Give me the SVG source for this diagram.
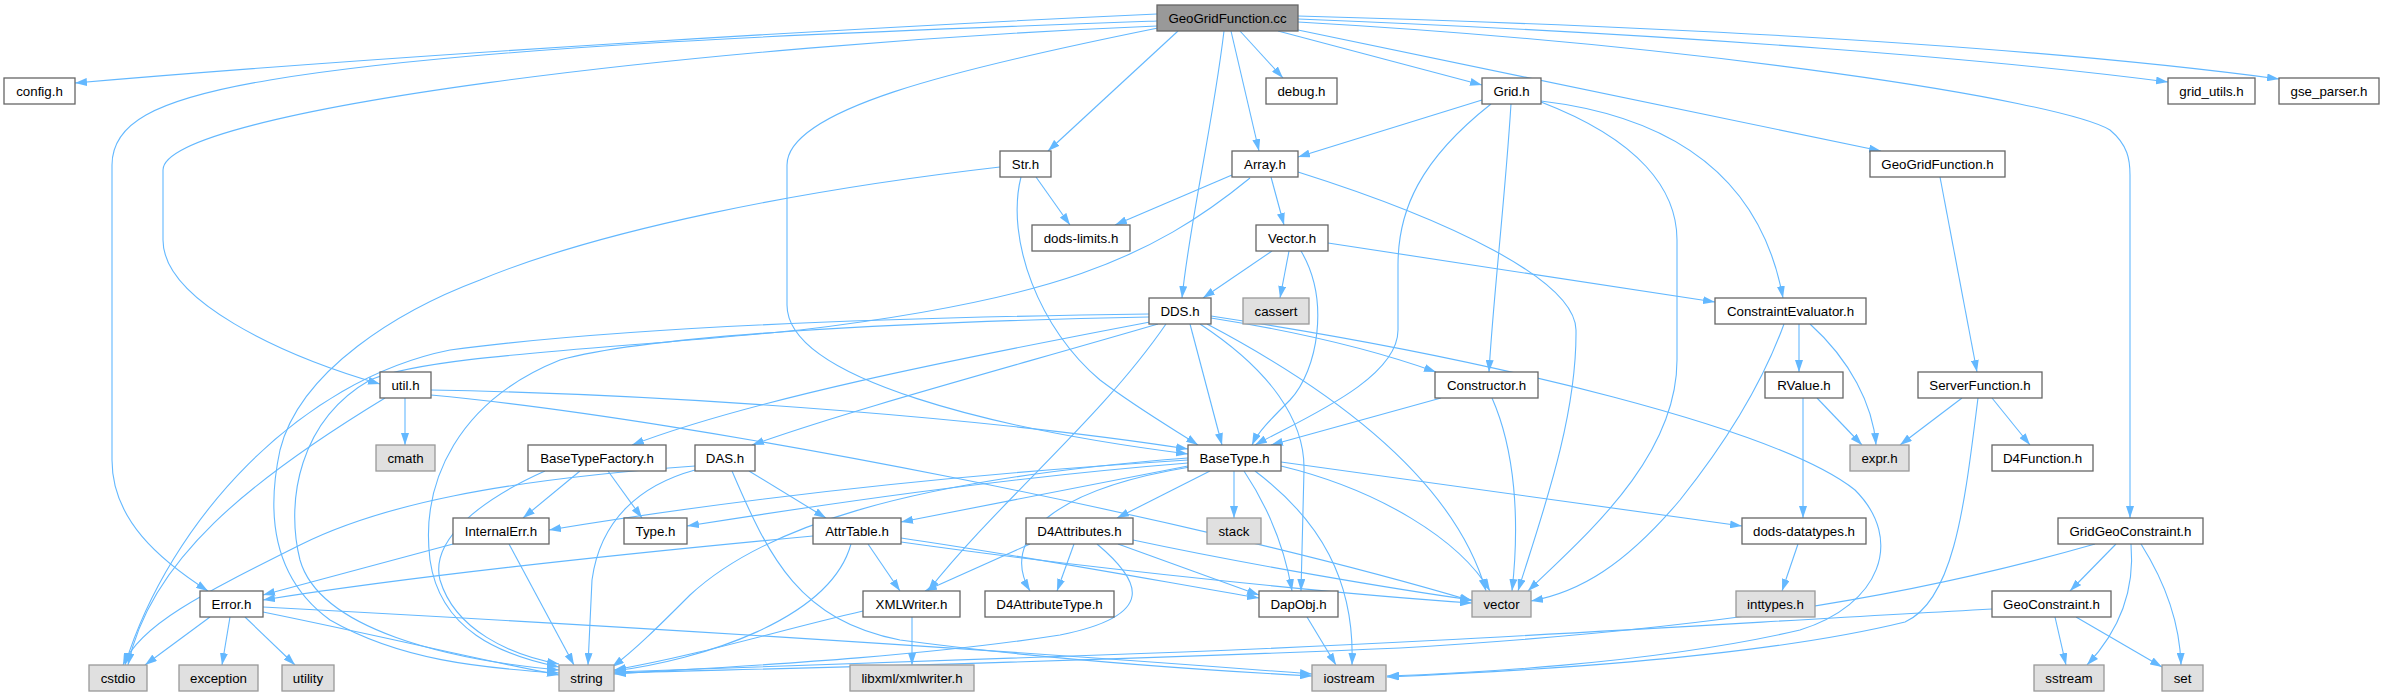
<svg xmlns="http://www.w3.org/2000/svg" width="2385" height="696" viewBox="0 0 2385 696">
<style>
.n rect{fill:#ffffff;stroke:#666666;stroke-width:1.3}
.s rect{fill:#e0e0e0;stroke:#999999;stroke-width:1.3}
.r rect{fill:#999999;stroke:#666666;stroke-width:1.3}
text{font-family:"Liberation Sans",Arial,Helvetica,sans-serif;font-size:13.3px;text-anchor:middle;fill:#000000}
#edges path{fill:none;stroke:#63B8FF;stroke-width:1.1;marker-end:url(#a)}
</style>
<defs>
<marker id="a" viewBox="0 0 12 8" markerWidth="12" markerHeight="8" markerUnits="userSpaceOnUse" refX="12" refY="4" orient="auto"><path d="M0,0 L12,4 L0,8 z" fill="#63B8FF"/></marker>
</defs>
<rect width="2385" height="696" fill="#ffffff"/>
<g id="edges">
<path d="M1157,14 C850,28 400,55 75,83"/>
<path d="M1157,26 C700,45 163,110 163,170 L163,240 C163,300 280,355 380,384"/>
<path d="M1157,21 C850,32 480,45 270,80 C150,100 112,125 112,165 L112,460 C112,520 160,560 208,591"/>
<path d="M1158,28 C950,70 787,110 787,165 L787,305 C787,380 1000,430 1188,454"/>
<path d="M1178,31 L1048,151"/>
<path d="M1224,31 C1212,130 1190,220 1182,298"/>
<path d="M1231,31 L1259,151"/>
<path d="M1240,31 L1283,78"/>
<path d="M1278,31 L1482,85"/>
<path d="M1298,30 L1881,151"/>
<path d="M1298,22 C1700,45 2060,100 2110,130 C2128,145 2130,160 2130,175 L2130,518"/>
<path d="M1298,19 C1700,35 2000,60 2168,82"/>
<path d="M1298,16 C1800,30 2100,55 2279,79"/>
<path d="M1036,177 L1070,225"/>
<path d="M1021,177 C1005,240 1040,330 1100,380 C1140,410 1175,430 1198,445"/>
<path d="M1000,167 C800,190 600,230 480,280 C400,310 300,370 280,450 C265,520 275,580 330,620 C400,660 480,668 559,673"/>
<path d="M1232,175 L1115,225"/>
<path d="M1271,177 L1284,225"/>
<path d="M1298,172 C1450,220 1575,280 1576,330 C1577,420 1540,520 1518,591"/>
<path d="M1250,178 C1150,260 1050,300 800,330 C600,350 430,355 370,380 C300,420 285,500 300,560 C320,630 450,660 559,670"/>
<path d="M1482,100 L1298,157"/>
<path d="M1511,104 C1505,200 1493,300 1489,372"/>
<path d="M1491,104 C1420,160 1398,210 1398,265 L1398,330 C1398,380 1300,420 1255,445"/>
<path d="M1541,102 C1640,140 1677,190 1677,240 L1677,360 C1677,460 1580,540 1528,591"/>
<path d="M1541,101 C1700,120 1765,200 1783,298"/>
<path d="M1272,251 L1203,298"/>
<path d="M1289,251 L1280,298"/>
<path d="M1301,251 C1330,300 1318,370 1290,400 C1270,420 1258,432 1252,445"/>
<path d="M1328,243 L1715,302"/>
<path d="M1190,324 L1222,445"/>
<path d="M1200,324 C1270,370 1305,420 1304,470 L1301,591"/>
<path d="M1207,324 C1370,410 1460,500 1486,591"/>
<path d="M1211,318 C1300,332 1380,352 1436,372"/>
<path d="M1211,316 C1500,360 1780,430 1855,490 C1905,540 1880,605 1800,630 C1650,665 1450,674 1387,676"/>
<path d="M1149,314 C850,318 600,330 450,350 C300,380 170,520 125,665"/>
<path d="M1149,317 C900,322 650,335 560,360 C460,400 420,480 430,560 C440,630 500,655 559,667"/>
<path d="M1150,322 C950,360 750,400 632,445"/>
<path d="M1158,324 C1000,370 850,410 752,445"/>
<path d="M1166,324 C1100,420 1000,500 928,591"/>
<path d="M1799,324 L1799,372"/>
<path d="M1810,324 C1850,360 1873,405 1876,445"/>
<path d="M1784,324 C1760,390 1720,450 1680,500 C1625,565 1580,592 1531,601"/>
<path d="M1441,398 L1271,445"/>
<path d="M1492,398 C1515,450 1520,520 1512,591"/>
<path d="M1817,398 L1862,445"/>
<path d="M1803,398 L1803,518"/>
<path d="M1962,398 L1900,445"/>
<path d="M1992,398 L2030,445"/>
<path d="M1978,398 C1965,500 1955,600 1905,622 C1750,660 1500,672 1387,677"/>
<path d="M1940,177 L1977,372"/>
<path d="M405,398 L405,445"/>
<path d="M431,390 C700,395 1000,420 1188,449"/>
<path d="M431,395 C700,420 1200,520 1472,601"/>
<path d="M385,398 C250,480 150,560 128,665"/>
<path d="M580,471 L523,518"/>
<path d="M608,471 L642,518"/>
<path d="M545,471 C480,500 430,540 440,580 C455,630 510,655 559,664"/>
<path d="M749,471 L826,518"/>
<path d="M695,470 C640,485 600,520 592,580 L588,665"/>
<path d="M732,471 C770,560 800,620 900,640 C1050,660 1200,670 1312,676"/>
<path d="M695,466 C500,480 380,505 300,545 C200,595 140,625 123,665"/>
<path d="M1188,458 C900,480 760,530 690,595 C660,625 635,650 612,667"/>
<path d="M1188,460 C900,478 700,505 549,530"/>
<path d="M1188,463 C1000,478 820,505 687,526"/>
<path d="M1188,466 L901,522"/>
<path d="M1210,471 L1117,518"/>
<path d="M1190,467 C1050,490 1000,540 1030,591"/>
<path d="M1234,471 L1234,518"/>
<path d="M1244,471 C1270,510 1285,550 1292,591"/>
<path d="M1255,471 C1320,520 1355,580 1352,665"/>
<path d="M1281,466 C1380,490 1460,540 1490,591"/>
<path d="M1281,462 L1742,526"/>
<path d="M453,544 L263,595"/>
<path d="M509,544 L574,665"/>
<path d="M813,536 C600,556 400,578 263,600"/>
<path d="M851,544 C830,620 700,660 614,671"/>
<path d="M868,544 L900,591"/>
<path d="M901,538 C1050,560 1180,585 1259,598"/>
<path d="M901,542 C1100,570 1350,595 1472,603"/>
<path d="M1030,544 L925,591"/>
<path d="M1074,544 L1057,591"/>
<path d="M1118,544 L1259,595"/>
<path d="M1133,540 C1250,565 1400,590 1472,600"/>
<path d="M1097,544 C1140,580 1160,615 1060,635 C900,660 700,668 614,674"/>
<path d="M210,617 L145,665"/>
<path d="M230,617 L222,665"/>
<path d="M245,617 L295,665"/>
<path d="M263,612 C400,640 480,660 559,675"/>
<path d="M263,607 C600,625 1000,650 1312,674"/>
<path d="M863,611 C780,630 700,655 614,670"/>
<path d="M912,617 L912,665"/>
<path d="M1307,617 L1336,665"/>
<path d="M1798,544 L1782,591"/>
<path d="M2116,544 L2070,591"/>
<path d="M2131,544 C2135,590 2120,630 2087,665"/>
<path d="M2141,544 C2170,590 2180,630 2181,665"/>
<path d="M2095,544 C1900,600 1700,630 1400,648 C1000,665 700,670 614,673"/>
<path d="M2055,617 L2066,665"/>
<path d="M2076,617 L2162,667"/>
<path d="M1992,609 C1700,625 1400,645 1100,655 C850,665 700,670 614,672"/>
</g>
<g id="n_root" class="r"><rect x="1157" y="5" width="141" height="26"/><text x="1227.5" y="22.7">GeoGridFunction.cc</text></g>
<g id="n_config" class="n"><rect x="4" y="78" width="71" height="26"/><text x="39.5" y="95.7">config.h</text></g>
<g id="n_debug" class="n"><rect x="1266" y="78" width="71" height="26"/><text x="1301.5" y="95.7">debug.h</text></g>
<g id="n_grid" class="n"><rect x="1482" y="78" width="59" height="26"/><text x="1511.5" y="95.7">Grid.h</text></g>
<g id="n_grid_utils" class="n"><rect x="2168" y="78" width="87" height="26"/><text x="2211.5" y="95.7">grid_utils.h</text></g>
<g id="n_gse_parser" class="n"><rect x="2279" y="78" width="100" height="26"/><text x="2329" y="95.7">gse_parser.h</text></g>
<g id="n_str" class="n"><rect x="1000" y="151" width="51" height="26"/><text x="1025.5" y="168.7">Str.h</text></g>
<g id="n_array" class="n"><rect x="1232" y="151" width="66" height="26"/><text x="1265" y="168.7">Array.h</text></g>
<g id="n_geogridfunction_h" class="n"><rect x="1870" y="151" width="135" height="26"/><text x="1937.5" y="168.7">GeoGridFunction.h</text></g>
<g id="n_dods_limits" class="n"><rect x="1032" y="225" width="98" height="26"/><text x="1081" y="242.7">dods-limits.h</text></g>
<g id="n_vector_h" class="n"><rect x="1256" y="225" width="72" height="26"/><text x="1292" y="242.7">Vector.h</text></g>
<g id="n_dds" class="n"><rect x="1149" y="298" width="62" height="26"/><text x="1180" y="315.7">DDS.h</text></g>
<g id="n_cassert" class="s"><rect x="1243" y="298" width="66" height="26"/><text x="1276" y="315.7">cassert</text></g>
<g id="n_constrainteval" class="n"><rect x="1715" y="298" width="151" height="26"/><text x="1790.5" y="315.7">ConstraintEvaluator.h</text></g>
<g id="n_util" class="n"><rect x="380" y="372" width="51" height="26"/><text x="405.5" y="389.7">util.h</text></g>
<g id="n_constructor" class="n"><rect x="1435" y="372" width="103" height="26"/><text x="1486.5" y="389.7">Constructor.h</text></g>
<g id="n_rvalue" class="n"><rect x="1765" y="372" width="78" height="26"/><text x="1804" y="389.7">RValue.h</text></g>
<g id="n_serverfunction" class="n"><rect x="1918" y="372" width="124" height="26"/><text x="1980" y="389.7">ServerFunction.h</text></g>
<g id="n_cmath" class="s"><rect x="376" y="445" width="59" height="26"/><text x="405.5" y="462.7">cmath</text></g>
<g id="n_basetypefactory" class="n"><rect x="528" y="445" width="138" height="26"/><text x="597" y="462.7">BaseTypeFactory.h</text></g>
<g id="n_das" class="n"><rect x="695" y="445" width="60" height="26"/><text x="725" y="462.7">DAS.h</text></g>
<g id="n_basetype" class="n"><rect x="1188" y="445" width="93" height="26"/><text x="1234.5" y="462.7">BaseType.h</text></g>
<g id="n_expr" class="s"><rect x="1850" y="445" width="59" height="26"/><text x="1879.5" y="462.7">expr.h</text></g>
<g id="n_d4function" class="n"><rect x="1992" y="445" width="101" height="26"/><text x="2042.5" y="462.7">D4Function.h</text></g>
<g id="n_internalerr" class="n"><rect x="453" y="518" width="96" height="26"/><text x="501" y="535.7">InternalErr.h</text></g>
<g id="n_type" class="n"><rect x="624" y="518" width="63" height="26"/><text x="655.5" y="535.7">Type.h</text></g>
<g id="n_attrtable" class="n"><rect x="813" y="518" width="88" height="26"/><text x="857" y="535.7">AttrTable.h</text></g>
<g id="n_d4attributes" class="n"><rect x="1026" y="518" width="107" height="26"/><text x="1079.5" y="535.7">D4Attributes.h</text></g>
<g id="n_stack" class="s"><rect x="1207" y="518" width="54" height="26"/><text x="1234" y="535.7">stack</text></g>
<g id="n_dods_datatypes" class="n"><rect x="1742" y="518" width="124" height="26"/><text x="1804" y="535.7">dods-datatypes.h</text></g>
<g id="n_gridgeoconstraint" class="n"><rect x="2058" y="518" width="145" height="26"/><text x="2130.5" y="535.7">GridGeoConstraint.h</text></g>
<g id="n_error" class="n"><rect x="200" y="591" width="63" height="26"/><text x="231.5" y="608.7">Error.h</text></g>
<g id="n_xmlwriter" class="n"><rect x="863" y="591" width="97" height="26"/><text x="911.5" y="608.7">XMLWriter.h</text></g>
<g id="n_d4attributetype" class="n"><rect x="985" y="591" width="129" height="26"/><text x="1049.5" y="608.7">D4AttributeType.h</text></g>
<g id="n_dapobj" class="n"><rect x="1259" y="591" width="79" height="26"/><text x="1298.5" y="608.7">DapObj.h</text></g>
<g id="n_vector" class="s"><rect x="1472" y="591" width="59" height="26"/><text x="1501.5" y="608.7">vector</text></g>
<g id="n_inttypes" class="s"><rect x="1736" y="591" width="79" height="26"/><text x="1775.5" y="608.7">inttypes.h</text></g>
<g id="n_geoconstraint" class="n"><rect x="1992" y="591" width="119" height="26"/><text x="2051.5" y="608.7">GeoConstraint.h</text></g>
<g id="n_cstdio" class="s"><rect x="89" y="665" width="58" height="26"/><text x="118" y="682.7">cstdio</text></g>
<g id="n_exception" class="s"><rect x="179" y="665" width="79" height="26"/><text x="218.5" y="682.7">exception</text></g>
<g id="n_utility" class="s"><rect x="282" y="665" width="52" height="26"/><text x="308" y="682.7">utility</text></g>
<g id="n_string" class="s"><rect x="559" y="665" width="55" height="26"/><text x="586.5" y="682.7">string</text></g>
<g id="n_libxml" class="s"><rect x="850" y="665" width="124" height="26"/><text x="912" y="682.7">libxml/xmlwriter.h</text></g>
<g id="n_iostream" class="s"><rect x="1312" y="665" width="74" height="26"/><text x="1349" y="682.7">iostream</text></g>
<g id="n_sstream" class="s"><rect x="2034" y="665" width="70" height="26"/><text x="2069" y="682.7">sstream</text></g>
<g id="n_set" class="s"><rect x="2162" y="665" width="41" height="26"/><text x="2182.5" y="682.7">set</text></g>
</svg>
